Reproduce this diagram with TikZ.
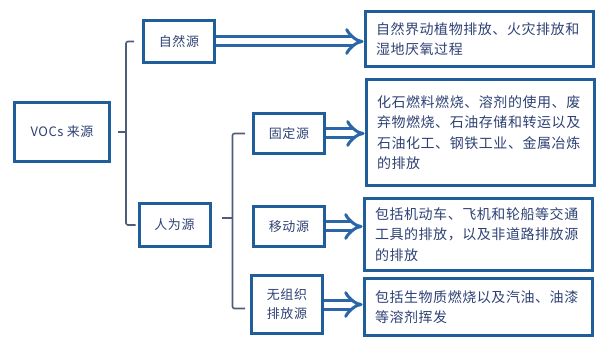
\documentclass[tikz,border=0pt]{standalone}
\usepackage{fontspec}
\usepackage{xcolor}
\usepackage{tikz}
\usetikzlibrary{arrows.meta,positioning}
\newfontfamily\cjk[LetterSpace=4]{Noto Sans CJK SC}
\definecolor{frame}{HTML}{1F5E9B}
\definecolor{flow}{HTML}{2B67A8}
\definecolor{ink}{HTML}{2F4275}
\definecolor{rule}{HTML}{4F5D7A}
\tikzset{
  src/.style={rectangle, draw=frame, line width=3pt, fill=white, align=center,
              font=\cjk\fontsize{13}{19}\selectfont, text=ink, inner sep=0pt,
              minimum width=71pt, minimum height=42pt},
  desc/.style={src, align=left, font=\cjk\fontsize{14}{20.5}\selectfont,
               minimum width=228pt, text width=206pt},
  fl/.style={draw=flow, line width=3pt, double=white, double distance=6pt,
             -{Implies[length=9pt,width=26pt]}},
  brk/.style={draw=rule, line width=1.6pt, rounded corners=2pt}
}
\begin{document}
\begin{tikzpicture}[x=1pt,y=-1pt]
  \useasboundingbox (0,0) rectangle (603,350);
  \node[src, minimum width=95pt, minimum height=59pt] (voc) at (62,132) {VOCs 来源};
  \node[src] (nat) at (179,41.5) {自然源};
  \node[src, minimum height=43pt] (hum) at (174.5,225) {人为源};
  \node[src, minimum height=40pt] (fix) at (289,133.5) {固定源};
  \node[src, minimum height=40pt] (mob) at (289,226.5) {移动源};
  \node[src, minimum height=58pt] (fug) at (287,304.5) {无组织\\排放源};

  \node[desc, minimum height=55pt] (dnat) at (479,39)
    {自然界动植物排放、火灾排放和\\湿地厌氧过程};
  \node[desc, minimum height=106pt] (dfix) at (480,132.5)
    {化石燃料燃烧、溶剂的使用、废\\弃物燃烧、石油存储和转运以及\\石油化工、钢铁工业、金属冶炼\\的排放};
  \node[desc, minimum height=72pt] (dmob) at (478,234.5)
    {包括机动车、飞机和轮船等交通\\工具的排放，以及非道路排放源\\的排放};
  \node[desc, minimum height=57pt] (dfug) at (478,307)
    {包括生物质燃烧以及汽油、油漆\\等溶剂挥发};

  % brackets
  \draw[brk] ([xshift=7pt]voc.east) -- ++(8,0);
  \draw[brk] ([xshift=-8pt]nat.west) -| ([xshift=15pt]voc.east) |- ([xshift=-2pt]hum.west);
  \draw[brk] ([xshift=10pt,yshift=7pt]hum.east) -- ++(11,0);
  \draw[brk] ([xshift=-7pt]fix.west) -| ([xshift=21pt,yshift=7pt]hum.east) |- ([xshift=-5pt,yshift=-4pt]fug.west);

  \foreach \a/\b in {nat/dnat,fix/dfix,mob/dmob,fug/dfug}
     \draw[fl] (\a.east) -- (\a.east -| \b.west);
\end{tikzpicture}
\end{document}
